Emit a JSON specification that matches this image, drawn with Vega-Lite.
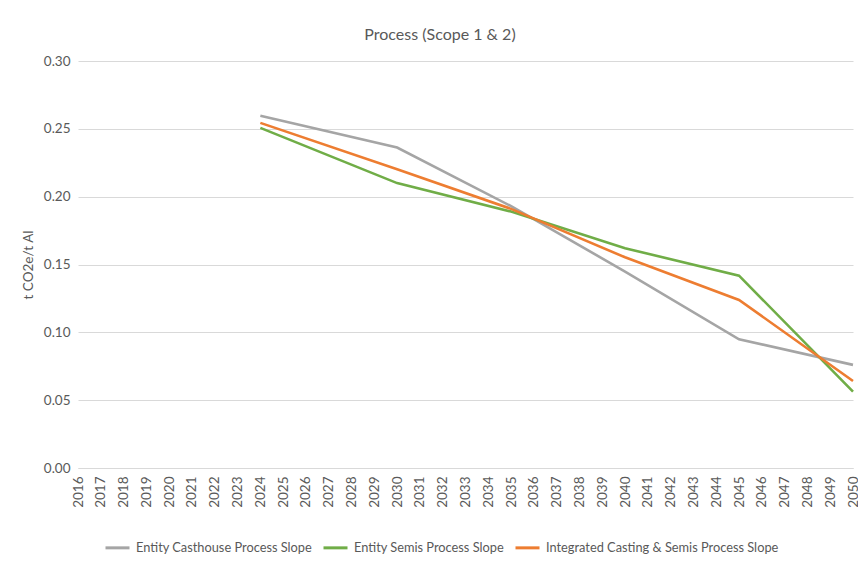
{
  "$schema": "https://vega.github.io/schema/vega-lite/v6.json",
  "autosize": {"type": "none"},
  "width": 780,
  "height": 407,
  "padding": {"left": 78, "top": 61, "right": 0, "bottom": 97},
  "background": "white",
  "config": {
    "font": "Lato",
    "view": {"stroke": null}
  },
  "title": {
    "text": "Process (Scope 1 & 2)",
    "fontSize": 16,
    "fontWeight": "normal",
    "color": "#595959",
    "anchor": "middle",
    "frame": "group",
    "dx": -28,
    "offset": 11
  },
  "data": {
    "values": [
      {"year": "2024", "series": "Entity Casthouse Process Slope", "value": 0.2596},
      {"year": "2030", "series": "Entity Casthouse Process Slope", "value": 0.2362},
      {"year": "2035", "series": "Entity Casthouse Process Slope", "value": 0.193},
      {"year": "2040", "series": "Entity Casthouse Process Slope", "value": 0.1448},
      {"year": "2045", "series": "Entity Casthouse Process Slope", "value": 0.0949},
      {"year": "2050", "series": "Entity Casthouse Process Slope", "value": 0.076},
      {"year": "2024", "series": "Entity Semis Process Slope", "value": 0.2507},
      {"year": "2030", "series": "Entity Semis Process Slope", "value": 0.21},
      {"year": "2035", "series": "Entity Semis Process Slope", "value": 0.189},
      {"year": "2040", "series": "Entity Semis Process Slope", "value": 0.162},
      {"year": "2045", "series": "Entity Semis Process Slope", "value": 0.1418},
      {"year": "2050", "series": "Entity Semis Process Slope", "value": 0.0563},
      {"year": "2024", "series": "Integrated Casting & Semis Process Slope", "value": 0.2544},
      {"year": "2030", "series": "Integrated Casting & Semis Process Slope", "value": 0.2202},
      {"year": "2035", "series": "Integrated Casting & Semis Process Slope", "value": 0.191},
      {"year": "2040", "series": "Integrated Casting & Semis Process Slope", "value": 0.1553},
      {"year": "2045", "series": "Integrated Casting & Semis Process Slope", "value": 0.1239},
      {"year": "2050", "series": "Integrated Casting & Semis Process Slope", "value": 0.0641}
    ]
  },
  "mark": {"type": "line", "strokeWidth": 2.6},
  "encoding": {
    "x": {
      "field": "year",
      "type": "ordinal",
      "scale": {
        "type": "point",
        "padding": 0,
        "range": [0, 775],
        "domain": ["2016","2017","2018","2019","2020","2021","2022","2023","2024","2025","2026","2027","2028","2029","2030","2031","2032","2033","2034","2035","2036","2037","2038","2039","2040","2041","2042","2043","2044","2045","2046","2047","2048","2049","2050"]
      },
      "axis": {
        "title": null,
        "labelAngle": -90,
        "labelAlign": "right",
        "labelBaseline": "middle",
        "labelFontSize": 13.5,
        "labelColor": "#595959",
        "labelPadding": 8,
        "ticks": false,
        "domain": true,
        "domainColor": "#D9D9D9",
        "grid": false
      }
    },
    "y": {
      "field": "value",
      "type": "quantitative",
      "scale": {"domain": [0, 0.3], "nice": false},
      "axis": {
        "title": "t CO2e/t Al",
        "titleFontSize": 13.5,
        "titleFontWeight": "normal",
        "titleColor": "#595959",
        "titlePadding": 8,
        "values": [0, 0.05, 0.1, 0.15, 0.2, 0.25, 0.3],
        "format": ".2f",
        "labelFontSize": 13.5,
        "labelColor": "#595959",
        "labelPadding": 8,
        "ticks": false,
        "domain": false,
        "gridColor": "#D9D9D9",
        "gridWidth": 1
      }
    },
    "color": {
      "field": "series",
      "type": "nominal",
      "scale": {
        "domain": ["Entity Casthouse Process Slope", "Entity Semis Process Slope", "Integrated Casting & Semis Process Slope"],
        "range": ["#A5A5A5", "#70AD47", "#ED7D31"]
      },
      "legend": {
        "title": null,
        "orient": "none",
        "legendX": 26,
        "legendY": 473,
        "direction": "horizontal",
        "symbolType": "stroke",
        "symbolStrokeWidth": 3,
        "symbolSize": 576,
        "labelFontSize": 12.8,
        "labelOffset": 5,
        "labelColor": "#595959",
        "columnPadding": 4,
        "labelLimit": 400
      }
    }
  }
}
